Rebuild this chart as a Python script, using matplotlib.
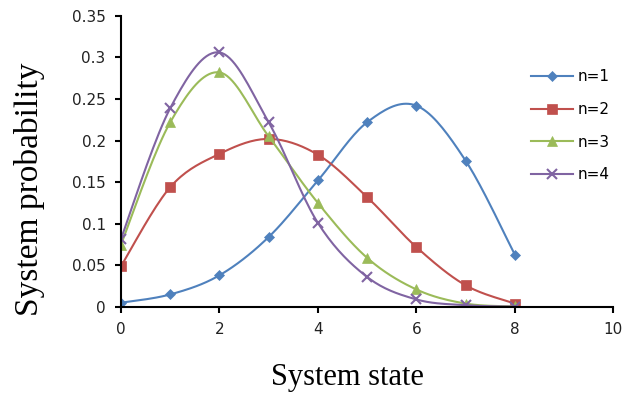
import numpy as np
import matplotlib
matplotlib.use("Agg")
import matplotlib.pyplot as plt

states = [0, 1, 2, 3, 4, 5, 6, 7, 8]
p_n1 = [0.005, 0.015, 0.038, 0.084, 0.152, 0.222, 0.242, 0.176, 0.063]
p_n2 = [0.049, 0.144, 0.184, 0.202, 0.183, 0.132, 0.072, 0.026, 0.004]
p_n3 = [0.075, 0.222, 0.282, 0.205, 0.125, 0.059, 0.021, 0.004, 0.0005]
p_n4 = [0.082, 0.239, 0.306, 0.222, 0.101, 0.036, 0.009, 0.002, 0.0003]
labels = ["n=1", "n=2", "n=3", "n=4"]
colors = ["#4F81BD", "#C0504D", "#9BBB59", "#8064A2"]
markers = ["D", "s", "^", "x"]
msizes = [5, 7.5, 7, 7]


def smooth(x, y, steps=20):
    # Excel-like smoothed line: cubic Bezier with Catmull-Rom control points
    x = np.asarray(x, float)
    y = np.asarray(y, float)
    px = np.concatenate([[x[0]], x, [x[-1]]])
    py = np.concatenate([[y[0]], y, [y[-1]]])
    xs, ys = [], []
    t = np.linspace(0, 1, steps)
    for i in range(len(x) - 1):
        p0 = np.array([px[i + 1], py[i + 1]])
        p3 = np.array([px[i + 2], py[i + 2]])
        p1 = p0 + (p3 - np.array([px[i], py[i]])) / 6
        p2 = p3 - (np.array([px[i + 3], py[i + 3]]) - p0) / 6
        b = ((1 - t) ** 3)[:, None] * p0 + (3 * (1 - t) ** 2 * t)[:, None] * p1 \
            + (3 * (1 - t) * t ** 2)[:, None] * p2 + (t ** 3)[:, None] * p3
        xs.extend(b[:, 0])
        ys.extend(b[:, 1])
    return xs, ys


fig = plt.figure(figsize=(6.27, 3.96), dpi=100)
ax = fig.add_axes([0.193, 0.225, 0.785, 0.735])

for vals, lab, c, m, ms in zip([p_n1, p_n2, p_n3, p_n4], labels, colors, markers, msizes):
    sx, sy = smooth(states, vals)
    mew = 1.5 if m == "x" else 0.5
    ax.plot(sx, sy, color=c, lw=1.5)
    ax.plot(states, vals, ls="none", marker=m, color=c, ms=ms, mew=mew)
    ax.plot([], [], color=c, lw=1.5, marker=m, ms=ms, label=lab, mew=mew)

ax.set_xlim(0, 10)
ax.set_ylim(0, 0.35)
ax.set_xticks([0, 2, 4, 6, 8, 10])
ax.set_yticks([0, 0.05, 0.1, 0.15, 0.2, 0.25, 0.3, 0.35])
ax.set_yticklabels(["0", "0.05", "0.1", "0.15", "0.2", "0.25", "0.3", "0.35"])
for s in ["top", "right"]:
    ax.spines[s].set_visible(False)
for s in ["left", "bottom"]:
    ax.spines[s].set_linewidth(1.5)
ax.tick_params(direction="out", length=4, width=1.5, labelsize=11, pad=7,
               labelcolor="#222222")

ax.set_xlabel("System state", family="Liberation Serif", fontsize=22, va="center")
ax.xaxis.set_label_coords(0.461, -0.244)
ax.set_ylabel("System probability", family="Liberation Serif", fontsize=24, va="center")
ax.yaxis.set_label_coords(-0.185, 0.405)

ax.legend(loc="upper left", bbox_to_anchor=(0.805, 0.863), frameon=False,
          prop={"size": 11}, labelspacing=1.15,
          handlelength=2.75, handletextpad=0.3)

fig.savefig("out.png", dpi=100)
